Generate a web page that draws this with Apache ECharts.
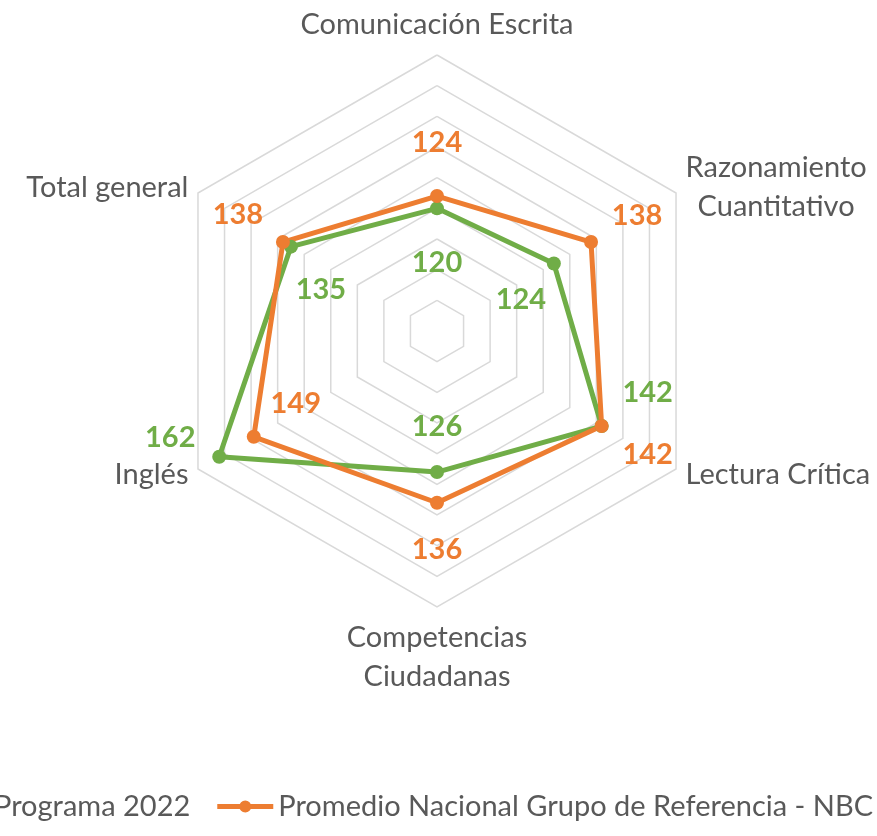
<!DOCTYPE html>
<html><head><meta charset="utf-8">
<script src="https://cdn.jsdelivr.net/npm/echarts@6/dist/echarts.min.js"></script>
<style>html,body{margin:0;padding:0;background:#fff}#c{width:877px;height:836px}</style>
</head><body><div id="c"></div>
<script>
// Categories in ECharts radar order (top first, then counter-clockwise)
const CATEGORIES = ['Comunicación Escrita', 'Total general', 'Inglés', 'Competencias\nCiudadanas', 'Lectura Crítica', 'Razonamiento\nCuantitativo'];
const SERIES_NAMES = ['Programa 2022', 'Promedio Nacional Grupo de Referencia - NBC'];
const PROGRAMA = [120, 135, 162, 126, 142, 124];
const PROMEDIO = [124, 138, 149, 136, 142, 138];
const AXIS_MIN = 80, AXIS_MAX = 170, SPLITS = 9;

const GREEN = '#70AD47', ORANGE = '#ED7D31', TEXT = '#595959';
const FONT = 'Lato';
// label offsets relative to each vertex (style only)
const GREEN_OFF = [[0, 54], [30, 43], [-49, -19], [0, -45], [46, -33], [-33, 36]];
const ORANGE_OFF = [[0, -53], [-45, -27], [42, -33], [0, 47], [46, 29], [46, -26]];

function mainItem(name, vals, color) {
  return {
    name: name, value: vals, symbol: 'circle', symbolSize: 14,
    itemStyle: { color: color },
    lineStyle: { color: color, width: 5 },
    label: { show: false }
  };
}
function labelItems(prefix, vals, color, offs) {
  return vals.map(function (v, i) {
    return {
      name: prefix + i, value: vals, symbol: 'circle', symbolSize: 1,
      itemStyle: { color: 'rgba(0,0,0,0)' },
      lineStyle: { width: 0, opacity: 0 },
      label: {
        show: true, position: 'inside', offset: offs[i],
        color: color, fontSize: 29, fontWeight: 'bold', fontFamily: FONT,
        formatter: function (p) { return p.dimensionIndex === i ? String(vals[i]) : ''; }
      }
    };
  });
}

const chart = echarts.init(document.getElementById('c'), null, { renderer: 'canvas' });
chart.setOption({
  backgroundColor: '#ffffff',
  animation: false,
  legend: {
    data: SERIES_NAMES,
    right: 4, top: 792, width: 1400, padding: 0, itemGap: 27, itemWidth: 56, itemHeight: 14,
    icon: 'path://M0,4.5L56,4.5L56,9.5L0,9.5Z M22,7A6,6,0,1,1,34,7A6,6,0,1,1,22,7Z',
    textStyle: { fontSize: 29, color: TEXT, fontFamily: FONT }
  },
  radar: {
    center: [437, 331],
    radius: 276,
    startAngle: 90,
    splitNumber: SPLITS,
    shape: 'polygon',
    nameGap: 11,
    indicator: CATEGORIES.map(function (c) { return { name: c, min: AXIS_MIN, max: AXIS_MAX }; }),
    axisName: {
      formatter: function (name) { return name.split('\n').map(function (s) { return '{a|' + s + '}'; }).join('\n'); },
      rich: { a: { fontSize: 29, lineHeight: 39, color: TEXT, fontFamily: FONT, align: 'center' } }
    },
    axisLine: { show: false },
    axisTick: { show: false },
    axisLabel: { show: false },
    splitArea: { show: false },
    splitLine: { lineStyle: { color: '#D9D9D9', width: 1.5 } }
  },
  series: [{
    type: 'radar',
    emphasis: { disabled: true },
    data: [mainItem(SERIES_NAMES[0], PROGRAMA, GREEN), mainItem(SERIES_NAMES[1], PROMEDIO, ORANGE)]
  }, {
    type: 'radar', silent: true, z: 5,
    emphasis: { disabled: true },
    data: labelItems('g', PROGRAMA, GREEN, GREEN_OFF).concat(labelItems('o', PROMEDIO, ORANGE, ORANGE_OFF))
  }]
});
</script></body></html>
